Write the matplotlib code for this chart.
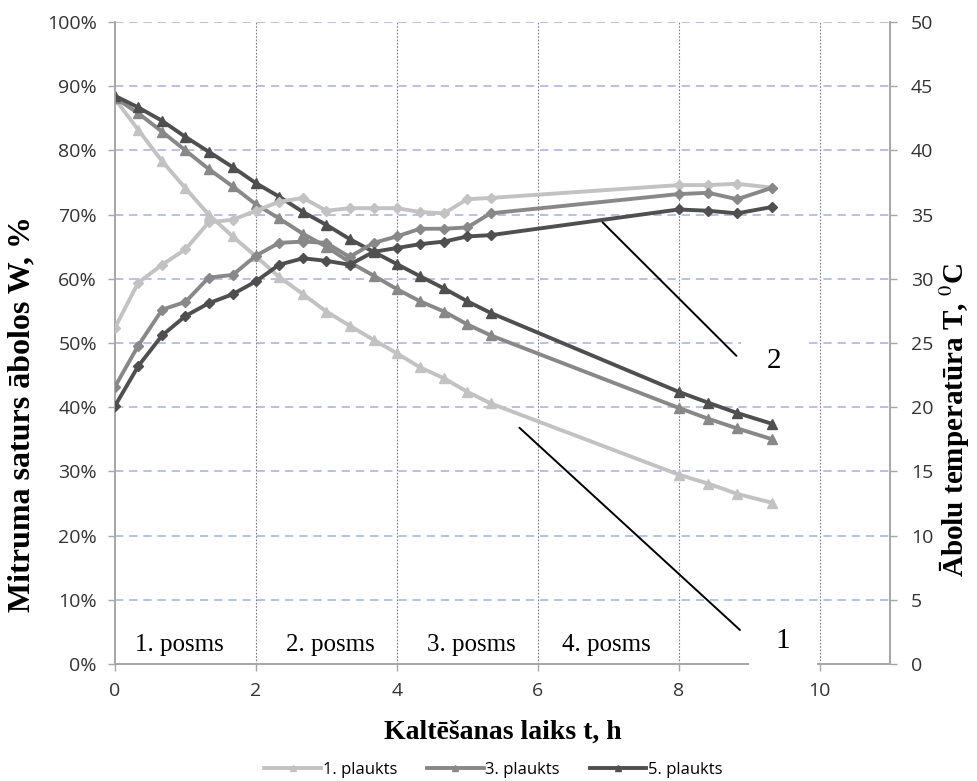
import matplotlib
matplotlib.use("Agg")
import matplotlib.pyplot as plt
from matplotlib.ticker import MultipleLocator, PercentFormatter

# laiks, h
t = [0, 0.33, 0.67, 1.0, 1.33, 1.67, 2.0, 2.33, 2.67, 3.0, 3.33, 3.67, 4.0,
     4.33, 4.67, 5.0, 5.33, 8.0, 8.42, 8.83, 9.33]

# mitruma saturs W, %
w1 = [88.0, 83.2, 78.3, 74.1, 70.0, 66.6, 63.5, 60.3, 57.6, 54.9, 52.7, 50.5, 48.4,
      46.2, 44.5, 42.4, 40.6, 29.5, 28.1, 26.5, 25.1]
w3 = [88.2, 85.8, 82.9, 80.0, 77.1, 74.4, 71.6, 69.4, 67.0, 65.0, 62.6, 60.5, 58.4,
      56.5, 54.9, 52.9, 51.2, 39.9, 38.2, 36.7, 35.0]
w5 = [88.5, 86.7, 84.6, 82.1, 79.8, 77.4, 74.9, 72.8, 70.4, 68.4, 66.2, 64.2, 62.3,
      60.4, 58.5, 56.5, 54.7, 42.4, 40.7, 39.1, 37.4]

# ābolu temperatūra T, C
T1 = [26.2, 29.7, 31.1, 32.3, 34.4, 34.6, 35.3, 36.0, 36.3, 35.3, 35.5, 35.5, 35.5,
      35.2, 35.1, 36.2, 36.3, 37.3, 37.3, 37.4, 37.1]
T3 = [21.6, 24.8, 27.6, 28.2, 30.1, 30.3, 31.8, 32.8, 32.9, 32.8, 31.7, 32.8, 33.3,
      33.9, 33.9, 34.0, 35.1, 36.6, 36.7, 36.2, 37.1]
T5 = [20.1, 23.2, 25.6, 27.1, 28.1, 28.8, 29.8, 31.1, 31.6, 31.4, 31.1, 32.1, 32.4,
      32.7, 32.9, 33.3, 33.4, 35.4, 35.3, 35.1, 35.6]

labels = ["1. plaukts", "3. plaukts", "5. plaukts"]
colors = ["#c2c2c2", "#888888", "#4f4f4f"]

stages = ["1. posms", "2. posms", "3. posms", "4. posms"]
stage_x = [0.28, 2.43, 4.43, 6.34]

tick_font = "Open Sans"
serif = "Liberation Serif"
plt.rcParams["mathtext.fontset"] = "stix"

fig = plt.figure(figsize=(9.77, 7.81), dpi=100)
ax = fig.add_axes([0.1177, 0.1498, 0.7933, 0.822])
ax2 = ax.twinx()

for w, c, lab in zip([w1, w3, w5], colors, labels):
    ax.plot(t, w, color=c, lw=2.8, marker="^", ms=7, label=lab, zorder=3)
for T, c in zip([T1, T3, T5], colors):
    ax2.plot(t, T, color=c, lw=2.8, marker="D", ms=5.5, zorder=3)

ax.set_xlim(0, 11)
ax.set_ylim(0, 100)
ax2.set_ylim(0, 50)
ax.xaxis.set_major_locator(MultipleLocator(2))
ax.yaxis.set_major_locator(MultipleLocator(10))
ax.yaxis.set_major_formatter(PercentFormatter(decimals=0))
ax2.yaxis.set_major_locator(MultipleLocator(5))

# rezģis
for y in range(10, 101, 10):
    ax.axhline(y, color="#aab8dc", lw=1.2, ls=(0, (5, 3.5)), zorder=1)
for x in [2, 4, 6, 8, 10]:
    ax.axvline(x, color="#7a7a7a", lw=0.8, ls=(0, (1.5, 1.5)), zorder=1)

for a in (ax, ax2):
    a.spines["top"].set_visible(False)
    for s in ("left", "right", "bottom"):
        a.spines[s].set_color("#a6a6a6")
        a.spines[s].set_linewidth(1.2)
    a.tick_params(colors="#a6a6a6", length=5, width=1, labelcolor="#333333")
for lab in ax.get_xticklabels() + ax.get_yticklabels() + ax2.get_yticklabels():
    lab.set_fontfamily(tick_font)
    lab.set_fontsize(14)
ax.tick_params(axis="y", pad=8)
ax2.tick_params(axis="y", pad=10)
ax.tick_params(axis="x", pad=8)

ax.set_xlabel("Kaltēšanas laiks t, h", fontfamily=serif, fontweight="bold",
              fontsize=20, labelpad=14)
ax.set_ylabel("Mitruma saturs ābolos W, %", fontfamily=serif, fontweight="bold",
              fontsize=23)
ax2.set_ylabel("Ābolu temperatūra T, $^{0}$C", fontfamily=serif, fontweight="bold",
               fontsize=21)
ax.yaxis.set_label_coords(-0.102, 0.39)
ax2.yaxis.set_label_coords(1.06, 0.38)

for s, x in zip(stages, stage_x):
    ax.text(x, 3, s, fontfamily=serif, fontsize=18, ha="left", va="center", zorder=4)

# norādes 1 un 2
box = dict(boxstyle="square,pad=0.9", fc="white", ec="none")
ax2.text(9.36, 23.6, "2", fontfamily=serif, fontsize=21, ha="center", va="center",
         bbox=box, zorder=4)
ax2.text(9.48, 1.8, "1", fontfamily=serif, fontsize=21, ha="center", va="center",
         bbox=box, zorder=4)
ax2.annotate("", xy=(6.92, 34.4), xytext=(8.82, 24.0),
             arrowprops=dict(arrowstyle="-", color="black", lw=1.4, shrinkA=0, shrinkB=0),
             zorder=5)
ax2.annotate("", xy=(5.74, 18.4), xytext=(8.87, 2.65),
             arrowprops=dict(arrowstyle="-", color="black", lw=1.4, shrinkA=0, shrinkB=0),
             zorder=5)

leg = fig.legend(loc="lower center", bbox_to_anchor=(0.505, -0.015), ncol=3, frameon=False,
                 handlelength=3.4, columnspacing=1.8, handletextpad=0.1, markerscale=0.6,
                 prop={"family": tick_font, "size": 12})

fig.savefig("out.png", dpi=100)
